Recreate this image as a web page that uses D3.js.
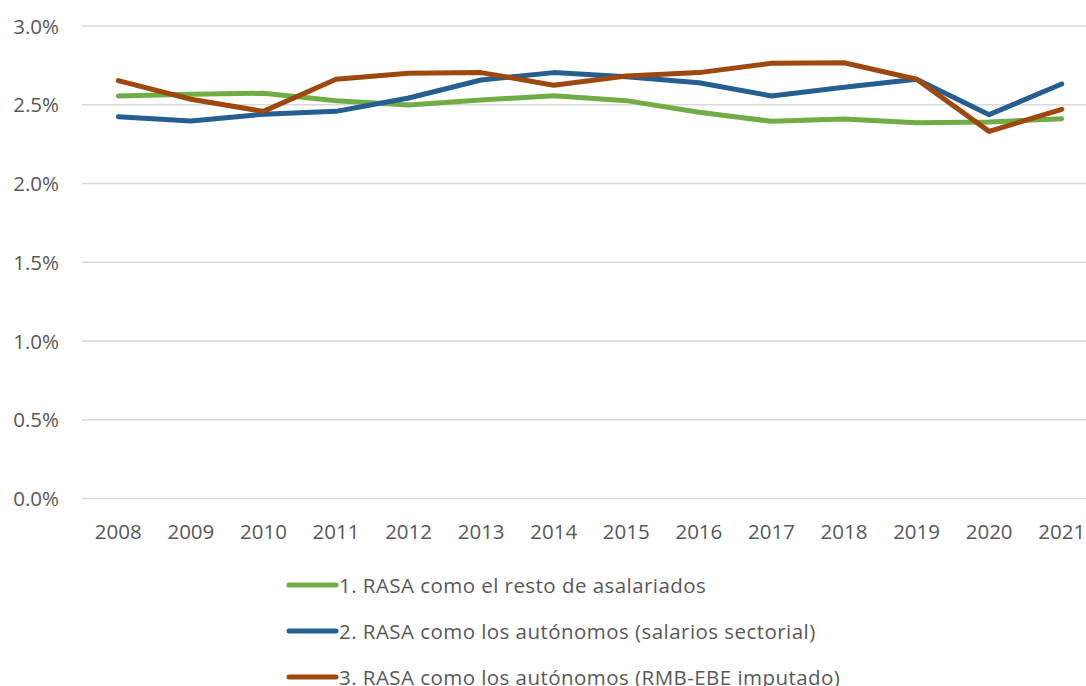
<!DOCTYPE html>
<html>
<head>
<meta charset="utf-8">
<script src="https://cdn.jsdelivr.net/npm/d3@7"></script>
<style>
  body { margin: 0; background: #fff; }
  text { font-family: "Open Sans", Lato, sans-serif; fill: #595959; }
</style>
</head>
<body>
<script>
var W = 1086, H = 686;

var years = [2008, 2009, 2010, 2011, 2012, 2013, 2014, 2015, 2016, 2017, 2018, 2019, 2020, 2021];
var yTicks = [0, 0.005, 0.01, 0.015, 0.02, 0.025, 0.03];

var resto = [0.02556, 0.02566, 0.02573, 0.02526, 0.02498, 0.02530, 0.02557, 0.02526, 0.02452, 0.02395, 0.02410, 0.02386, 0.02390, 0.02411];
var sectorial = [0.02424, 0.02397, 0.02440, 0.02458, 0.02543, 0.02657, 0.02704, 0.02678, 0.02640, 0.02556, 0.02611, 0.02662, 0.02437, 0.02632];
var imputado = [0.02653, 0.02535, 0.02458, 0.02662, 0.02700, 0.02704, 0.02624, 0.02683, 0.02704, 0.02763, 0.02767, 0.02662, 0.02331, 0.02471];

var names = [
  "1. RASA como el resto de asalariados",
  "2. RASA como los autónomos (salarios sectorial)",
  "3. RASA como los autónomos (RMB-EBE imputado)"
];
var colors = ["#70ad47", "#255e91", "#9e480e"];
var series = [resto, sectorial, imputado];

var svg = d3.select("body")
  .append("svg")
  .attr("width", W)
  .attr("height", H);

var x = d3.scalePoint()
  .domain(years)
  .range([82, 1098])
  .padding(0.5);

var y = d3.scaleLinear()
  .domain([0, 0.03])
  .range([498.5, 26]);

// gridlines
svg.append("g")
  .selectAll("line")
  .data(yTicks)
  .enter()
  .append("line")
  .attr("x1", 82)
  .attr("x2", W)
  .attr("y1", d => y(d))
  .attr("y2", d => y(d))
  .attr("stroke", "#d9d9d9")
  .attr("stroke-width", 1.3);

// y labels
svg.append("g")
  .selectAll("text")
  .data(yTicks)
  .enter()
  .append("text")
  .attr("x", 59)
  .attr("y", d => y(d) + 7.5)
  .attr("text-anchor", "end")
  .attr("font-size", 20.5)
  .text(d => d3.format(".1%")(d));

// x labels
svg.append("g")
  .selectAll("text")
  .data(years)
  .enter()
  .append("text")
  .attr("x", d => x(d))
  .attr("y", 539)
  .attr("text-anchor", "middle")
  .attr("font-size", 20.5)
  .text(d => d);

var line = d3.line()
  .x((d, i) => x(years[i]))
  .y(d => y(d));

svg.append("g")
  .selectAll("path")
  .data(series)
  .enter()
  .append("path")
  .attr("d", line)
  .attr("fill", "none")
  .attr("stroke", (d, i) => colors[i])
  .attr("stroke-width", 5)
  .attr("stroke-linejoin", "round")
  .attr("stroke-linecap", "round");

// legend
var leg = svg.append("g")
  .selectAll("g")
  .data(names)
  .enter()
  .append("g")
  .attr("transform", (d, i) => "translate(0," + (585 + i * 46) + ")");

leg.append("line")
  .attr("x1", 289)
  .attr("x2", 336)
  .attr("stroke", (d, i) => colors[i])
  .attr("stroke-width", 5)
  .attr("stroke-linecap", "round");

leg.append("text")
  .attr("x", 339)
  .attr("y", 7.5)
  .attr("font-size", 20.5)
  .attr("letter-spacing", 0.45)
  .text(d => d);
</script>
</body>
</html>
